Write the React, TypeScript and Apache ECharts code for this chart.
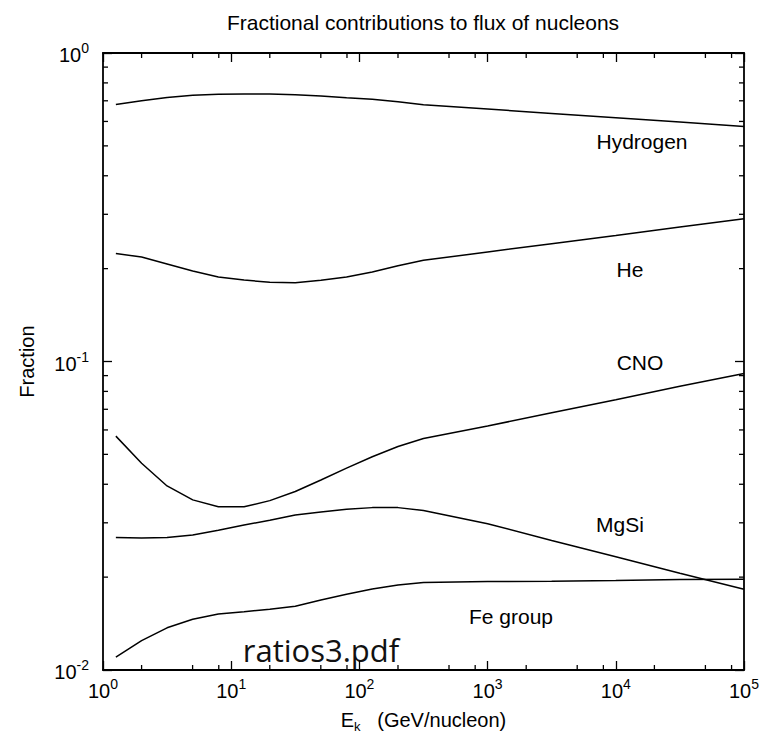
import React, { useEffect, useRef } from "react";
import * as echarts from "echarts";

// Kinetic energy per nucleon (GeV/nucleon)
const energies = [1.26, 2, 3.16, 5.01, 7.94, 12.6, 20, 31.6, 50.1, 79.4, 126, 200, 316, 1000, 3160, 10000, 31600, 100000];

// Fractional contributions
const hydrogen = [0.681, 0.700, 0.718, 0.729, 0.735, 0.737, 0.737, 0.732, 0.726, 0.716, 0.708, 0.695, 0.680, 0.658, 0.637, 0.617, 0.598, 0.578];
const helium = [0.224, 0.218, 0.207, 0.1965, 0.188, 0.1837, 0.1806, 0.180, 0.1833, 0.188, 0.195, 0.2045, 0.2128, 0.2264, 0.241, 0.256, 0.2727, 0.290];
const cno = [0.0573, 0.0468, 0.0395, 0.0356, 0.0338, 0.0338, 0.0354, 0.0379, 0.0413, 0.0451, 0.0491, 0.053, 0.0563, 0.0618, 0.0682, 0.0752, 0.0831, 0.0915];
const mgsi = [0.0269, 0.0268, 0.0269, 0.0274, 0.0284, 0.0295, 0.0306, 0.0318, 0.0325, 0.0332, 0.0336, 0.0336, 0.0329, 0.0298, 0.0263, 0.0233, 0.0206, 0.01826];
const feGroup = [0.0110, 0.01245, 0.0137, 0.0146, 0.0152, 0.01545, 0.01573, 0.0161, 0.01686, 0.0176, 0.0183, 0.01886, 0.0192, 0.01936, 0.0194, 0.0195, 0.01966, 0.0197];

const seriesNames = ["Hydrogen", "He", "CNO", "MgSi", "Fe group"];

// Axis ranges and minor tick values
const X_MIN = 1;
const X_MAX = 100000;
const Y_MIN = 0.01;
const Y_MAX = 1;
const xMinorTicks = [2, 5, 8, 20, 50, 80, 200, 500, 800, 2000, 5000, 8000, 20000, 50000, 80000];
const yMinorTicks = [0.02, 0.03, 0.04, 0.05, 0.06, 0.07, 0.08, 0.09, 0.2, 0.3, 0.4, 0.5, 0.6, 0.7, 0.8, 0.9];

const FONT = "'Liberation Sans', Arial, Helvetica, sans-serif";

export default function App() {
  const ref = useRef<HTMLDivElement>(null);

  useEffect(() => {
    if (!ref.current) return;
    const chart = echarts.init(ref.current, null, { renderer: "svg" });

    const allSeries = [hydrogen, helium, cno, mgsi, feGroup];
    const lineSeries = allSeries.map((vals, k) => ({
      name: seriesNames[k],
      type: "line",
      xAxisIndex: 0,
      yAxisIndex: 0,
      data: energies.map((e, i) => [e, vals[i]]),
      showSymbol: false,
      symbol: "none",
      smooth: false,
      lineStyle: { color: "#000", width: 1.5 },
      z: 3,
    }));

    const powLabel = (v: number) => {
      const e = Math.round(Math.log10(v));
      return `{b|10}{s|${e}}`;
    };
    const richPow = {
      b: { fontSize: 20, fontFamily: FONT, color: "#000", lineHeight: 24, verticalAlign: "bottom" },
      s: { fontSize: 14, fontFamily: FONT, color: "#000", lineHeight: 10, verticalAlign: "top" },
    };

    const tickStyle = { color: "#000", width: 1.3 };
    const axisLineStyle = { lineStyle: { color: "#000", width: 1.8 } };

    const option: any = {
      animation: false,
      backgroundColor: "#fff",
      textStyle: { fontFamily: FONT },
      grid: { left: 103, top: 53, width: 641, height: 617, containLabel: false, outerBoundsMode: "none" },
      xAxis: [
        {
          type: "log",
          logBase: 10,
          min: X_MIN,
          max: X_MAX,
          position: "bottom",
          axisLine: { show: true, onZero: false, ...axisLineStyle },
          axisTick: { show: true, inside: true, length: 9, lineStyle: tickStyle },
          splitLine: { show: false },
          axisLabel: { formatter: powLabel, rich: richPow, margin: 7 },
          name: "{n|E}{sub|k}{n|   (GeV/nucleon)}",
          nameLocation: "middle",
          nameGap: 36,
          nameTextStyle: {
            rich: {
              n: { fontSize: 20, fontFamily: FONT, color: "#000", lineHeight: 22, verticalAlign: "middle" },
              sub: { fontSize: 13, fontFamily: FONT, color: "#000", lineHeight: 27, verticalAlign: "bottom" },
            },
          },
        },
        {
          type: "log",
          logBase: 10,
          min: X_MIN,
          max: X_MAX,
          position: "top",
          axisLine: { show: true, onZero: false, ...axisLineStyle },
          axisTick: { show: true, inside: true, length: 9, lineStyle: tickStyle },
          splitLine: { show: false },
          axisLabel: { show: false },
        },
      ],
      yAxis: [
        {
          type: "log",
          logBase: 10,
          min: Y_MIN,
          max: Y_MAX,
          position: "left",
          axisLine: { show: true, onZero: false, ...axisLineStyle },
          axisTick: { show: true, inside: true, length: 9, lineStyle: tickStyle },
          splitLine: { show: false },
          axisLabel: { formatter: powLabel, rich: richPow, margin: 14 },
          name: "Fraction",
          nameLocation: "middle",
          nameGap: 66,
          nameTextStyle: { fontSize: 20, fontFamily: FONT, color: "#000" },
        },
        {
          type: "log",
          logBase: 10,
          min: Y_MIN,
          max: Y_MAX,
          position: "right",
          axisLine: { show: true, onZero: false, ...axisLineStyle },
          axisTick: { show: true, inside: true, length: 9, lineStyle: tickStyle },
          splitLine: { show: false },
          axisLabel: { show: false },
        },
      ],
      series: [
        ...lineSeries,
        {
          type: "custom",
          name: "xMinorTicks",
          xAxisIndex: 0,
          yAxisIndex: 0,
          silent: true,
          clip: false,
          data: xMinorTicks.map((v) => [v, 0.1]),
          renderItem: (_p: any, api: any) => {
            const v = api.value(0);
            const b = api.coord([v, Y_MIN]);
            const t = api.coord([v, Y_MAX]);
            const st = { stroke: "#000", lineWidth: 1.3 };
            return {
              type: "group",
              children: [
                { type: "line", shape: { x1: b[0], y1: b[1], x2: b[0], y2: b[1] - 5 }, style: st },
                { type: "line", shape: { x1: t[0], y1: t[1], x2: t[0], y2: t[1] + 5 }, style: st },
              ],
            };
          },
        },
        {
          type: "custom",
          name: "yMinorTicks",
          xAxisIndex: 0,
          yAxisIndex: 0,
          silent: true,
          clip: false,
          data: yMinorTicks.map((v) => [10, v]),
          renderItem: (_p: any, api: any) => {
            const v = api.value(1);
            const l = api.coord([X_MIN, v]);
            const r = api.coord([X_MAX, v]);
            const st = { stroke: "#000", lineWidth: 1.3 };
            return {
              type: "group",
              children: [
                { type: "line", shape: { x1: l[0], y1: l[1], x2: l[0] + 5, y2: l[1] }, style: st },
                { type: "line", shape: { x1: r[0], y1: r[1], x2: r[0] - 5, y2: r[1] }, style: st },
              ],
            };
          },
        },
      ],
      graphic: [
        {
          type: "text",
          x: 423,
          y: 22,
          style: { text: "Fractional contributions to flux of nucleons", font: `21px ${FONT}`, fill: "#000", align: "center", verticalAlign: "middle" },
        },
        { type: "text", x: 642, y: 141, style: { text: "Hydrogen", font: `21px ${FONT}`, fill: "#000", align: "center", verticalAlign: "middle" } },
        { type: "text", x: 630, y: 269, style: { text: "He", font: `21px ${FONT}`, fill: "#000", align: "center", verticalAlign: "middle" } },
        { type: "text", x: 640, y: 362, style: { text: "CNO", font: `21px ${FONT}`, fill: "#000", align: "center", verticalAlign: "middle" } },
        { type: "text", x: 620, y: 524, style: { text: "MgSi", font: `21px ${FONT}`, fill: "#000", align: "center", verticalAlign: "middle" } },
        { type: "text", x: 511, y: 616, style: { text: "Fe group", font: `21px ${FONT}`, fill: "#000", align: "center", verticalAlign: "middle" } },
        { type: "text", x: 321, y: 650, style: { text: "ratios3.pdf", font: `31px 'Open Sans', 'Noto Sans', sans-serif`, fill: "#111", align: "center", verticalAlign: "middle" } },
      ],
    };

    chart.setOption(option);
    return () => chart.dispose();
  }, []);

  return <div ref={ref} style={{ position: "fixed", left: 0, top: 0, width: 762, height: 736, background: "#fff" }} />;
}
